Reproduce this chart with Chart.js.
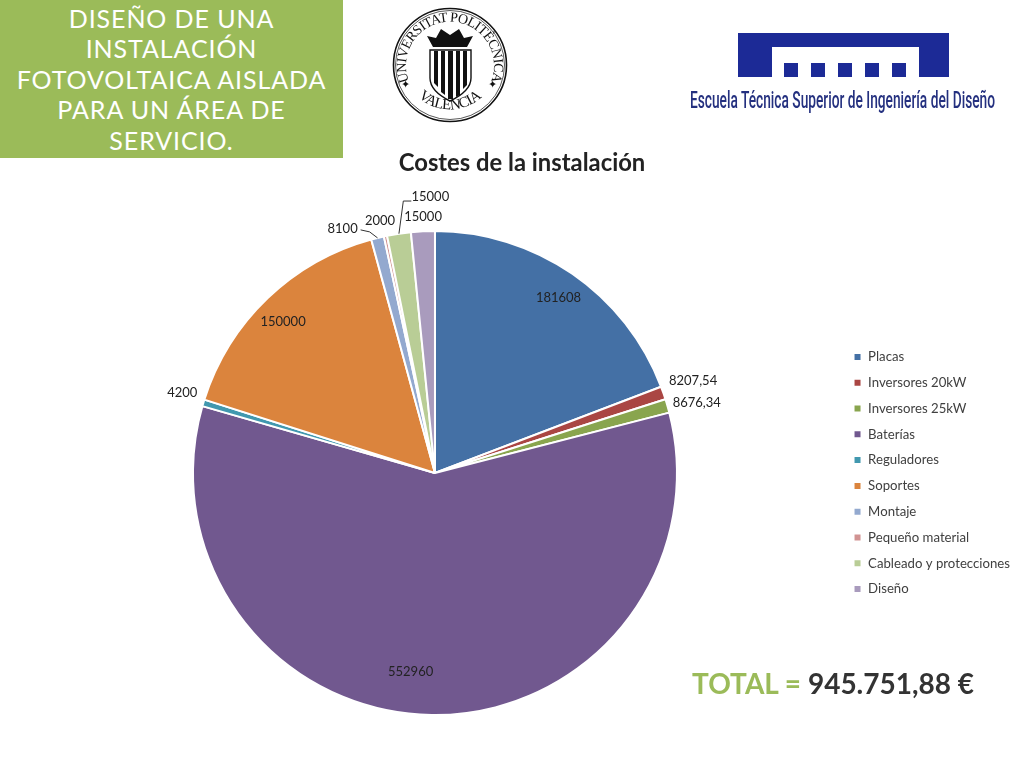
<!DOCTYPE html>
<html lang="es">
<head>
<meta charset="utf-8">
<title>Costes de la instalación</title>
<script src="https://cdn.jsdelivr.net/npm/chart.js@4"></script>
<style>
  html, body { margin: 0; padding: 0; background: #fff; }
  #page { position: relative; width: 1024px; height: 768px; overflow: hidden; }
  #costChart { position: absolute; left: 0; top: 0; }
  #banner {
    position: absolute; left: 0; top: 0; width: 343px; height: 158px;
    background: #9bbb59; color: #fff; text-align: center;
    font: 400 25px/30.4px Lato, sans-serif; letter-spacing: 0.9px;
    padding-top: 3px; box-sizing: border-box;
  }
  #chartTitle {
    position: absolute; left: 322px; width: 400px; top: 147px; text-align: center;
    font: 700 23.8px/30px Lato, sans-serif; color: #222;
  }
  #total {
    position: absolute; left: 692px; top: 663px; white-space: nowrap;
    font: 700 28px/40px Lato, sans-serif; color: #333;
  }
  #total span { color: #9bbb59; }
  svg { position: absolute; left: 0; top: 0; }
</style>
</head>
<body>
<div id="page">
  <canvas id="costChart" width="1024" height="768"></canvas>
  <div id="banner">DISEÑO DE UNA<br>INSTALACIÓN<br>FOTOVOLTAICA AISLADA<br>PARA UN ÁREA DE<br>SERVICIO.</div>
  <div id="chartTitle">Costes de la instalación</div>
  <div id="total"><span>TOTAL =</span> 945.751,88 €</div>

  <svg width="1024" height="140" viewBox="0 0 1024 140">
    <!-- university seal -->
    <g fill="none" stroke="#111">
      <circle cx="450" cy="65" r="56.5" stroke-width="1.6"/>
      <circle cx="450" cy="65" r="54.5" stroke-width="0.7"/>
    </g>
    <defs>
      <path id="sealTop" d="M 410 84 A 44 44 0 1 1 490 84"/>
      <path id="sealBottom" d="M 412 90 A 47 47 0 0 0 488 90"/>
    </defs>
    <text font-family="Liberation Serif" font-size="14" fill="#111">
      <textPath href="#sealTop" startOffset="50%" text-anchor="middle" textLength="170">UNIVERSITAT POLITÈCNICA</textPath>
    </text>
    <text font-family="Liberation Serif" font-size="15" fill="#111">
      <textPath href="#sealBottom" startOffset="50%" text-anchor="middle" textLength="70">VALÈNCIA</textPath>
    </text>
    <text x="401" y="88" font-size="11" fill="#111" font-family="DejaVu Sans">✦</text>
    <text x="488" y="88" font-size="11" fill="#111" font-family="DejaVu Sans">✦</text>
    <path d="M430 50 L471 50 L471 78 Q471 91 450 101 Q430 91 430 78 Z" fill="#fff" stroke="#111" stroke-width="1.4"/>
    <g fill="#111">
      <path d="M434 51 h4 v36 l-4 -4 Z"/>
      <path d="M441 51 h4 v44 l-4 -3 Z"/>
      <path d="M448 51 h5 v48 l-5 0 Z"/>
      <path d="M456 51 h4 v44 l-4 2 Z"/>
      <path d="M463 51 h4 v34 l-4 4 Z"/>
      <path d="M433 47 L427 36 L436 38 L441 29 L450 35 L459 29 L464 38 L473 36 L467 47 Z"/>
    </g>

    <!-- school logo -->
    <path fill="#1c2a96" d="M738 33 H949 V77 H919 V47 H772 V77 H738 Z"/>
    <g fill="#1c2a96">
      <rect x="784" y="63" width="14" height="14"/>
      <rect x="811" y="63" width="14" height="14"/>
      <rect x="838" y="63" width="14" height="14"/>
      <rect x="865" y="63" width="14" height="14"/>
      <rect x="892" y="63" width="14" height="14"/>
    </g>
    <text x="690" y="108" font-family="Roboto" font-weight="500" font-size="24" fill="#24307f"
      textLength="305" lengthAdjust="spacingAndGlyphs">Escuela Técnica Superior de Ingeniería del Diseño</text>
  </svg>
</div>

<script>
// Chart data
const categories = [
  "Placas", "Inversores 20kW", "Inversores 25kW", "Baterías", "Reguladores",
  "Soportes", "Montaje", "Pequeño material", "Cableado y protecciones", "Diseño",
];
const costs = [181608, 8207.54, 8676.34, 552960, 4200, 150000, 8100, 2000, 15000, 15000];
const costLabels = [
  "181608", "8207,54", "8676,34", "552960", "4200",
  "150000", "8100", "2000", "15000", "15000",
];
const sliceColors = [
  "#4470a5", "#aa4643", "#89a54e", "#71588f", "#4198af",
  "#db843d", "#93a9cf", "#d19392", "#b9cd96", "#a99bbd",
];

// label placement: distance from centre, and degrees off the slice's middle
const labelRadius = [214, 274, 271, 200, 265, 214, 261, 258, 276, 256];
const labelTurn = [0.7, -0.3, 1.1, 6.2, 0.7, -1.4, -7, -0.5, 7.6, 0.2];

// leader lines, as offsets from the label centre (last point is the slice edge)
const leaders = {
  6: [[18, 1], [27, 3]],
  8: [[-19, 4], [-27, 4]],
};

const sliceLabels = {
  id: "sliceLabels",
  afterDatasetsDraw(chart) {
    const ctx = chart.ctx;
    ctx.save();
    ctx.font = "13px Lato, sans-serif";
    ctx.fillStyle = "#222";
    ctx.textAlign = "center";
    ctx.textBaseline = "middle";
    chart.getDatasetMeta(0).data.forEach((arc, i) => {
      const mid = (arc.startAngle + arc.endAngle) / 2;
      const angle = mid + (labelTurn[i] * Math.PI) / 180;
      const x = arc.x + Math.cos(angle) * labelRadius[i];
      const y = arc.y + Math.sin(angle) * labelRadius[i];
      ctx.fillText(costLabels[i], x, y);

      if (leaders[i]) {
        ctx.beginPath();
        leaders[i].forEach((p, n) => {
          if (n === 0) ctx.moveTo(x + p[0], y + p[1]);
          else ctx.lineTo(x + p[0], y + p[1]);
        });
        ctx.lineTo(arc.x + Math.cos(mid) * arc.outerRadius, arc.y + Math.sin(mid) * arc.outerRadius);
        ctx.strokeStyle = "#333";
        ctx.lineWidth = 1;
        ctx.stroke();
      }
    });
    ctx.restore();
  },
};

new Chart(document.getElementById("costChart"), {
  type: "pie",
  data: {
    labels: categories,
    datasets: [
      {
        data: costs,
        backgroundColor: sliceColors,
        borderColor: "#fff",
        borderWidth: 2,
      },
    ],
  },
  options: {
    responsive: false,
    animation: false,
    layout: { padding: { left: 29, right: 4, top: 230, bottom: 52 } },
    plugins: {
      tooltip: { enabled: false },
      title: { display: false },
      legend: {
        position: "right",
        labels: {
          boxWidth: 8,
          boxHeight: 8,
          padding: 12.6,
          color: "#404040",
          font: { family: "Lato, sans-serif", size: 13.2 },
        },
      },
    },
  },
  plugins: [sliceLabels],
});
</script>
</body>
</html>
